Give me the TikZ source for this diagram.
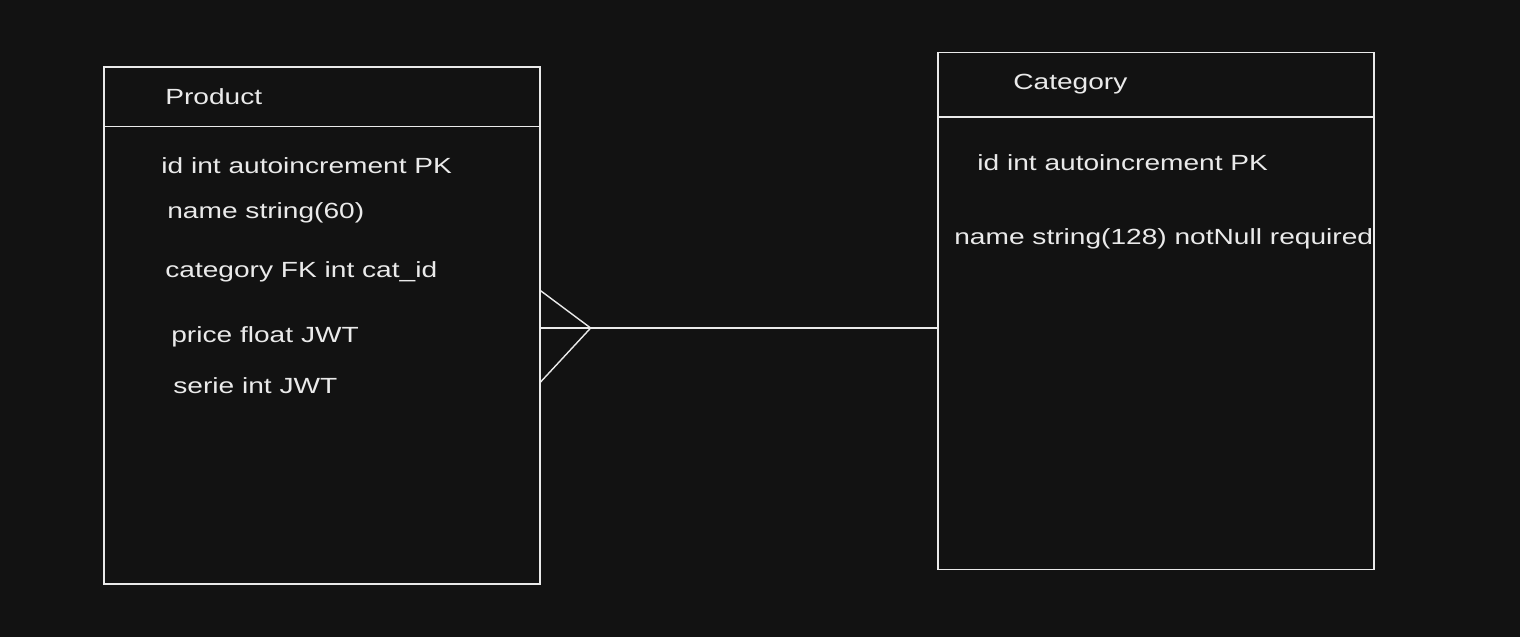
\documentclass[tikz,border=0pt]{standalone}
\usepackage{fontspec}
\setmainfont{Liberation Sans}[FakeStretch=1.28]
\usetikzlibrary{positioning}
\definecolor{bg}{HTML}{121212}
\definecolor{ink}{HTML}{EAEAEA}

\begin{document}
\begin{tikzpicture}[x=0.02cm, y=-0.02cm, every node/.style={font=\fontsize{12.5}{15}\selectfont, text=ink},
  tbl/.style={draw=ink, line width=0.8pt, minimum width=8.72cm, minimum height=10.34cm, inner sep=0pt},
  field/.style={anchor=west, inner sep=0pt},
  rel/.style={draw=ink, line width=0.8pt}]

% Background
\fill[bg] (0,0) rectangle (1520,637);

% Tables
\node (product) [tbl] at (322,325.5) {};
\node (category) [tbl] at (1156,311) {};
\draw[rel] ([yshift=-1.2cm]product.north west) -- ([yshift=-1.2cm]product.north east);
\draw[rel] ([yshift=-1.3cm]category.north west) -- ([yshift=-1.3cm]category.north east);

% Product fields
\node (ptitle) [field] at (165,97) {Product};
\node (pid) [field] at (161,166) {id int autoincrement PK};
\node (pname) [field] at (167,213) {name string(60)};
\node (pcat) [field] at (165,272) {category FK int cat\_id};
\node (pprice) [field] at (171,337) {price float JWT};
\node (pserie) [field] at (173,386) {serie int JWT};

% Category fields
\node (ctitle) [field] at (1013,84) {Category};
\node (cid) [field] at (977,163) {id int autoincrement PK};
\node (cname) [field] at (954,239) {name string(128) notNull required};

% Relation (many products -- one category)
\coordinate (fk) at ([yshift=-0.05cm]product.east);
\coordinate[right=1cm of fk] (crow);
\draw[rel] (fk) -- (fk -| category.west);
\draw[rel] (crow) -- ++(-51,-38);
\draw[rel] (crow) -- ++(-51,55);

\end{tikzpicture}
\end{document}
